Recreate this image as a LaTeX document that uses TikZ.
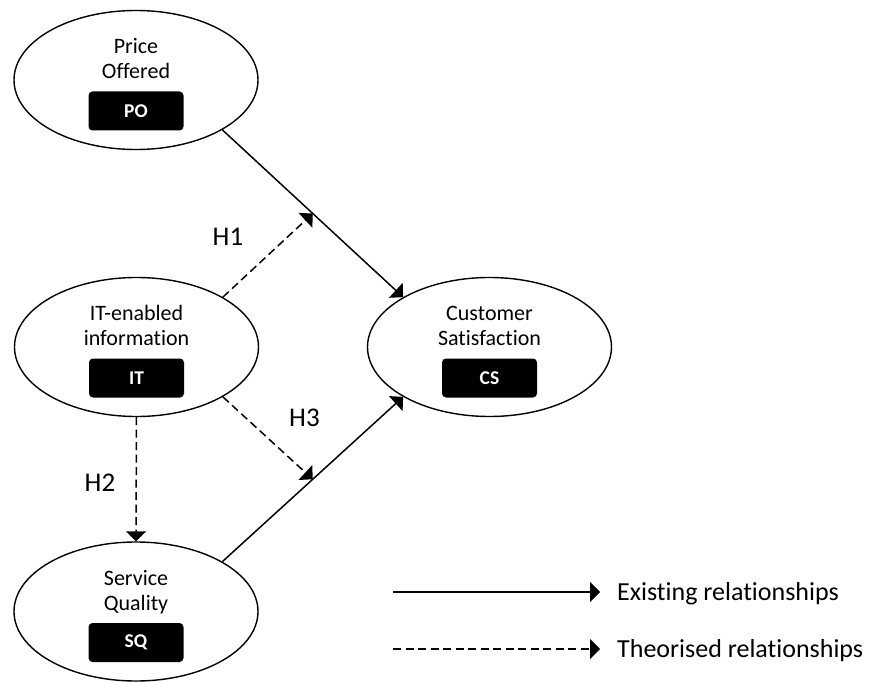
\documentclass[tikz,border=0pt]{standalone}
\usepackage{fontspec}
\setmainfont{Carlito}[Ligatures=NoCommon]
\usetikzlibrary{arrows.meta,shapes.geometric}

% A construct: ellipse, two caption lines and a black abbreviation tag
\newcommand\conceptnode[6]{%
  \node[concept] (#1) at (#2,#3) {};
  \node[caption] (#1-l1) at ([yshift=26.5pt]#1.center) {#4};
  \node[caption] (#1-l2) at ([yshift=1.5pt]#1.center) {#5};
  \node[tag] (#1-tag) at ([yshift=-31pt]#1.center) {#6};
}

\begin{document}
\begin{tikzpicture}[x=1pt,y=-1pt,
  concept/.style={draw, ellipse, line width=1.4pt, minimum width=244pt,
    minimum height=139pt, inner sep=0pt},
  caption/.style={anchor=base, inner sep=0pt, font=\fontsize{22}{26}\selectfont},
  tag/.style={fill=black, rounded corners=4pt, minimum width=95pt,
    minimum height=39pt, inner sep=0pt, text=white,
    font=\fontsize{19.5}{22}\selectfont\bfseries},
  hyp/.style={anchor=base, inner sep=0pt, font=\fontsize{27}{30}\selectfont},
  legendtext/.style={anchor=base west, inner sep=0pt, font=\fontsize{26}{30}\selectfont},
  existing/.style={line width=1.5pt, -{Triangle[length=10pt,width=20pt]}},
  theorised/.style={existing, dash pattern=on 8pt off 4.5pt},
]
\useasboundingbox (0,0) rectangle (871,682);

% constructs
\conceptnode{PO}{136}{80}{Price}{Offered}{PO}
\conceptnode{IT}{136.5}{347}{IT-enabled}{information}{IT}
\conceptnode{CS}{489.5}{347}{Customer}{Satisfaction}{CS}
\conceptnode{SQ}{136}{611.5}{Service}{Quality}{SQ}

% existing relationships
\draw[existing] (PO.-30) -- coordinate[pos=0.5] (h1end) (CS.150);
\draw[existing] (SQ.30) -- coordinate[pos=0.5] (h3end) (CS.210);

% theorised relationships
\draw[theorised] (IT.30) -- (h1end);
\draw[theorised] (IT.-30) -- (h3end);
\draw[theorised] (IT.south) -- (SQ.north);

% hypothesis labels
\node[hyp] (H1) at (228,245) {H1};
\node[hyp] (H2) at (100,491) {H2};
\node[hyp] (H3) at (304.5,426) {H3};

% legend
\coordinate (ex-a) at (393,592);
\coordinate (ex-b) at (600,592);
\coordinate (th-a) at (393,649);
\coordinate (th-b) at (600,649);
\draw[existing] (ex-a) -- (ex-b);
\draw[theorised] (th-a) -- (th-b);
\node[legendtext] (ex-text) at (617,600.5) {Existing relationships};
\node[legendtext] (th-text) at (617,657.5) {Theorised relationships};
\end{tikzpicture}
\end{document}
